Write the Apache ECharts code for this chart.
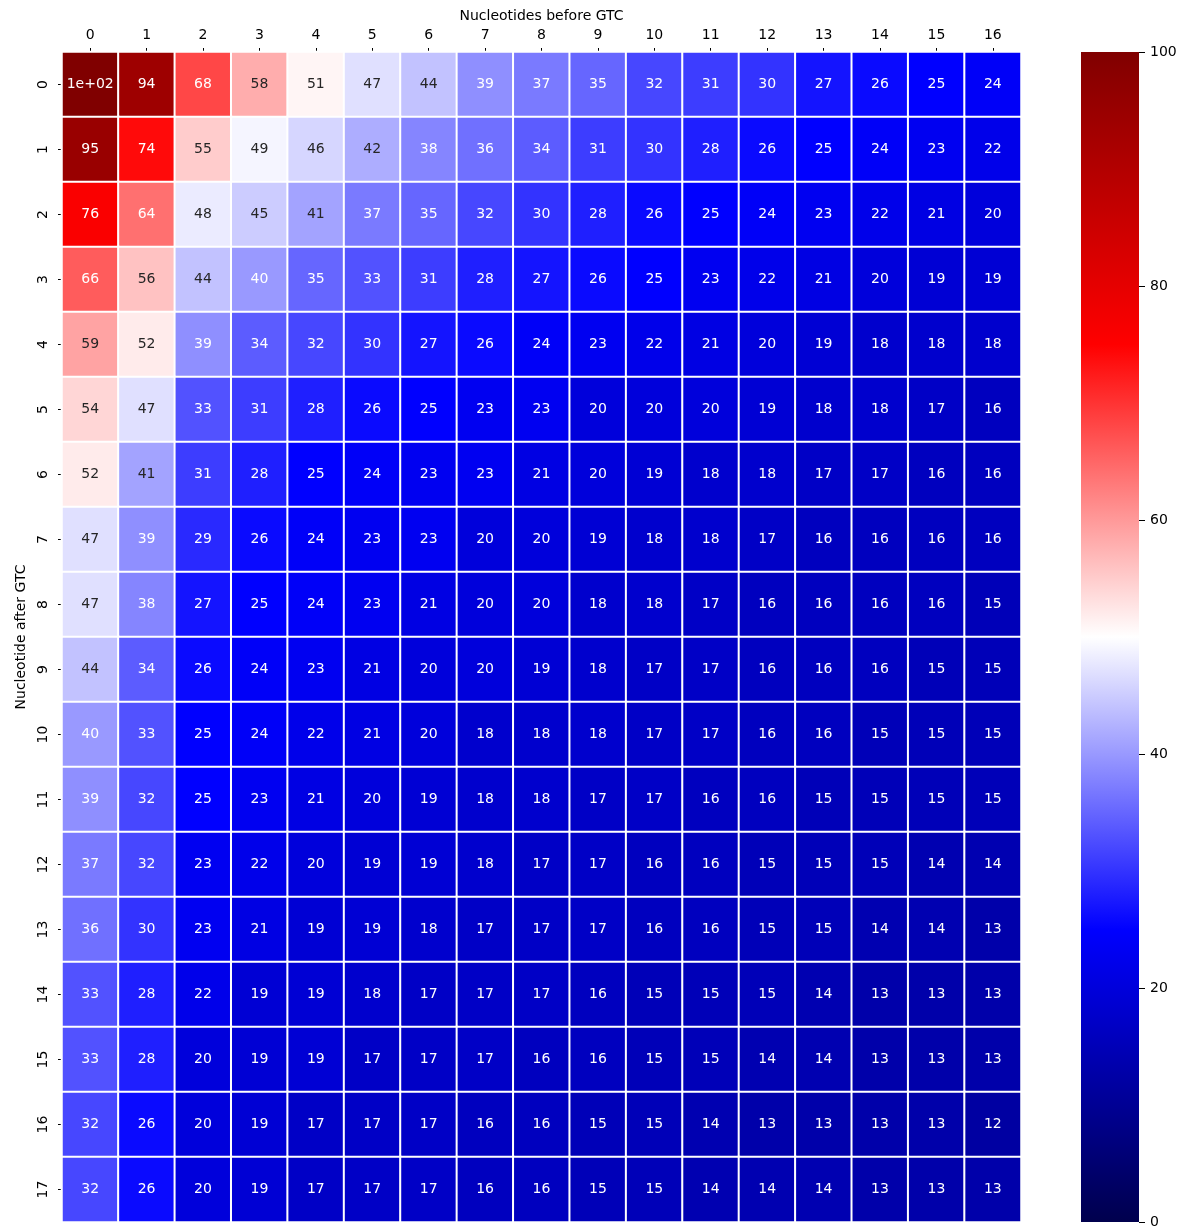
<!DOCTYPE html>
<html>
<head>
<meta charset="utf-8">
<script src="https://cdn.jsdelivr.net/npm/echarts@6/dist/echarts.min.js"></script>
<style>
  html, body { margin: 0; padding: 0; background: #ffffff; }
  #chart { width: 1185px; height: 1229px; }
</style>
</head>
<body>
<div id="chart"></div>
<script>
// Column categories (Nucleotides before GTC)
const xLabels = ['0','1','2','3','4','5','6','7','8','9','10','11','12','13','14','15','16'];
// Row categories (Nucleotide after GTC)
const yLabels = ['0','1','2','3','4','5','6','7','8','9','10','11','12','13','14','15','16','17'];
// Colorbar tick values
const colorbarTicks = [0, 20, 40, 60, 80, 100];

// Cell values, one array per row
const row0  = [100, 94, 68, 58, 51, 47, 44, 39, 37, 35, 32, 31, 30, 27, 26, 25, 24];
const row1  = [95, 74, 55, 49, 46, 42, 38, 36, 34, 31, 30, 28, 26, 25, 24, 23, 22];
const row2  = [76, 64, 48, 45, 41, 37, 35, 32, 30, 28, 26, 25, 24, 23, 22, 21, 20];
const row3  = [66, 56, 44, 40, 35, 33, 31, 28, 27, 26, 25, 23, 22, 21, 20, 19, 19];
const row4  = [59, 52, 39, 34, 32, 30, 27, 26, 24, 23, 22, 21, 20, 19, 18, 18, 18];
const row5  = [54, 47, 33, 31, 28, 26, 25, 23, 23, 20, 20, 20, 19, 18, 18, 17, 16];
const row6  = [52, 41, 31, 28, 25, 24, 23, 23, 21, 20, 19, 18, 18, 17, 17, 16, 16];
const row7  = [47, 39, 29, 26, 24, 23, 23, 20, 20, 19, 18, 18, 17, 16, 16, 16, 16];
const row8  = [47, 38, 27, 25, 24, 23, 21, 20, 20, 18, 18, 17, 16, 16, 16, 16, 15];
const row9  = [44, 34, 26, 24, 23, 21, 20, 20, 19, 18, 17, 17, 16, 16, 16, 15, 15];
const row10 = [40, 33, 25, 24, 22, 21, 20, 18, 18, 18, 17, 17, 16, 16, 15, 15, 15];
const row11 = [39, 32, 25, 23, 21, 20, 19, 18, 18, 17, 17, 16, 16, 15, 15, 15, 15];
const row12 = [37, 32, 23, 22, 20, 19, 19, 18, 17, 17, 16, 16, 15, 15, 15, 14, 14];
const row13 = [36, 30, 23, 21, 19, 19, 18, 17, 17, 17, 16, 16, 15, 15, 14, 14, 13];
const row14 = [33, 28, 22, 19, 19, 18, 17, 17, 17, 16, 15, 15, 15, 14, 13, 13, 13];
const row15 = [33, 28, 20, 19, 19, 17, 17, 17, 16, 16, 15, 15, 14, 14, 13, 13, 13];
const row16 = [32, 26, 20, 19, 17, 17, 17, 16, 16, 15, 15, 14, 13, 13, 13, 13, 12];
const row17 = [32, 26, 20, 19, 17, 17, 17, 16, 16, 15, 15, 14, 14, 14, 13, 13, 13];
const rows = [row0,row1,row2,row3,row4,row5,row6,row7,row8,row9,row10,row11,row12,row13,row14,row15,row16,row17];

// Value range of the colour scale
const vMin = 0, vMax = 100;

// Colour map (matplotlib "seismic") stops
const cmapStops = [[0,0,77],[0,0,255],[255,255,255],[255,0,0],[128,0,0]];
const cmapHex = cmapStops.map(c => '#' + c.map(v => v.toString(16).padStart(2,'0')).join(''));

function cmap(v) {
  let t = (v - vMin) / (vMax - vMin);
  t = Math.max(0, Math.min(1, t));
  const n = cmapStops.length - 1;
  const pos = t * n;
  const i = Math.min(n - 1, Math.floor(pos));
  const f = pos - i;
  const a = cmapStops[i], b = cmapStops[i + 1];
  return [0,1,2].map(k => a[k] + (b[k] - a[k]) * f);
}
function luminance(rgb) {
  const lin = rgb.map(c => {
    c = c / 255;
    return c <= 0.03928 ? c / 12.92 : Math.pow((c + 0.055) / 1.055, 2.4);
  });
  return 0.2126 * lin[0] + 0.7152 * lin[1] + 0.0722 * lin[2];
}
// python-like "%.2g" formatting
function fmt2g(v) {
  if (v === 0) return '0';
  const r = Number(v.toPrecision(2));
  const e = Math.floor(Math.log10(Math.abs(r)));
  if (e >= 2 || e < -4) {
    let m = String(Number((r / Math.pow(10, e)).toPrecision(2)));
    const sign = e < 0 ? '-' : '+';
    return m + 'e' + sign + String(Math.abs(e)).padStart(2, '0');
  }
  return String(r);
}

const data = [];
rows.forEach((row, yi) => {
  row.forEach((v, xi) => {
    const lum = luminance(cmap(v));
    data.push({
      value: [xi, yi, v],
      label: { color: lum > 0.408 ? '#262626' : '#ffffff' }
    });
  });
});

// Colorbar gradient (bottom = vMin, top = vMax)
const colorbarFill = new echarts.graphic.LinearGradient(0, 1, 0, 0,
  cmapHex.map((c, i) => ({ offset: i / (cmapHex.length - 1), color: c })));

const FONT = 'DejaVu Sans';
const chart = echarts.init(document.getElementById('chart'), null, { renderer: 'canvas' });

chart.setOption({
  backgroundColor: '#ffffff',
  animation: false,
  textStyle: { fontFamily: FONT },
  grid: [
    { left: 62, right: 164, top: 52, bottom: 7, containLabel: false },
    { left: 1081, width: 58, top: 52, height: 1170, containLabel: false,
      show: true, backgroundColor: colorbarFill, borderWidth: 0 }
  ],
  xAxis: [
    {
      gridIndex: 0,
      type: 'category',
      data: xLabels,
      position: 'top',
      name: 'Nucleotides before GTC',
      nameLocation: 'middle',
      nameGap: 28,
      nameTextStyle: { fontSize: 14, color: '#000', fontFamily: FONT },
      axisLine: { show: false },
      axisTick: { show: true, alignWithLabel: true, length: 4, lineStyle: { color: '#000', width: 1 } },
      axisLabel: { fontSize: 14, color: '#000', margin: 10, fontFamily: FONT },
      splitLine: { show: false },
      splitArea: { show: false }
    },
    {
      gridIndex: 1,
      type: 'value',
      show: false,
      min: 0,
      max: 1,
      axisLine: { show: false, onZero: false }
    }
  ],
  yAxis: [
    {
      gridIndex: 0,
      type: 'category',
      data: yLabels,
      inverse: true,
      name: 'Nucleotide after GTC',
      nameLocation: 'middle',
      nameGap: 33,
      nameRotate: 90,
      nameTextStyle: { fontSize: 14, color: '#000', fontFamily: FONT },
      axisLine: { show: false },
      axisTick: { show: true, alignWithLabel: true, length: 4, lineStyle: { color: '#000', width: 1 } },
      axisLabel: { fontSize: 14, color: '#000', margin: 12, rotate: 90, fontFamily: FONT },
      splitLine: { show: false },
      splitArea: { show: false }
    },
    {
      gridIndex: 1,
      type: 'value',
      min: vMin,
      max: vMax,
      interval: colorbarTicks[1] - colorbarTicks[0],
      position: 'right',
      axisLine: { show: false, onZero: false },
      axisTick: { show: true, length: 6, lineStyle: { color: '#000', width: 1 } },
      axisLabel: { fontSize: 14, color: '#000', margin: 11, fontFamily: FONT },
      splitLine: { show: false }
    }
  ],
  visualMap: {
    type: 'continuous',
    show: false,
    seriesIndex: 0,
    min: vMin,
    max: vMax,
    inRange: { color: cmapHex }
  },
  series: [
    {
      type: 'heatmap',
      xAxisIndex: 0,
      yAxisIndex: 0,
      data: data,
      label: {
        show: true,
        fontSize: 14,
        fontFamily: FONT,
        formatter: p => fmt2g(p.value[2])
      },
      itemStyle: { borderColor: '#ffffff', borderWidth: 2 },
      emphasis: { disabled: true }
    }
  ]
});
</script>
</body>
</html>
